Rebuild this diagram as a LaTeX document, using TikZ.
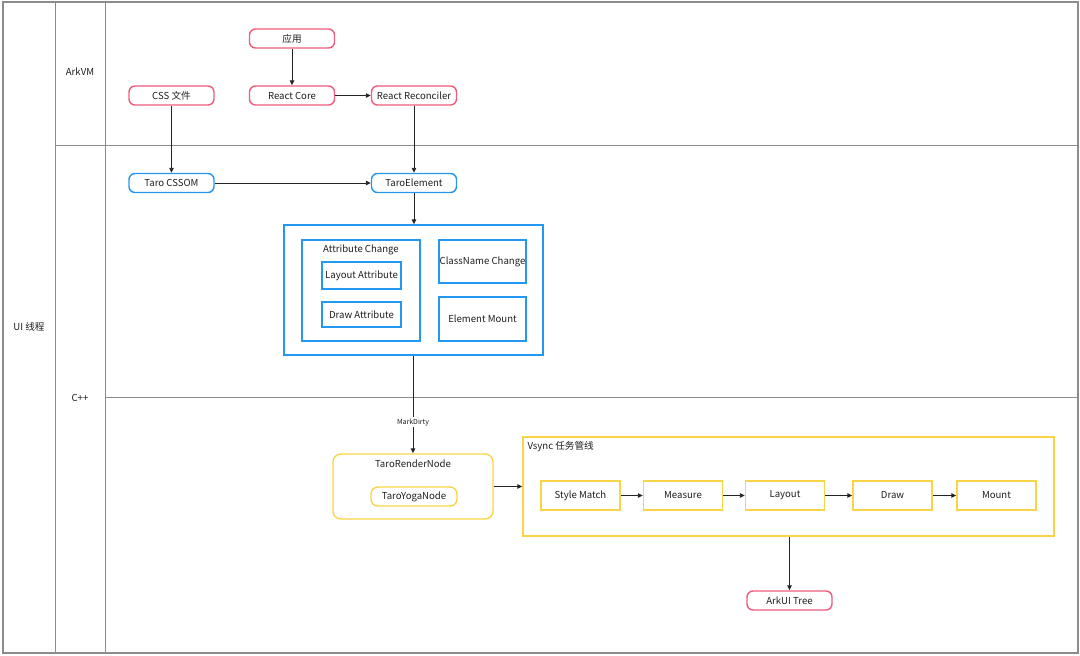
\documentclass[tikz,border=0pt]{standalone}
\usepackage{fontspec}
\setmainfont{Noto Sans CJK SC}
\usetikzlibrary{arrows.meta}
\definecolor{pinkc}{RGB}{240,92,124}
\definecolor{bluec}{RGB}{36,152,240}
\definecolor{yellowc}{RGB}{250,212,72}
\definecolor{lanec}{RGB}{140,140,140}
\definecolor{arrc}{RGB}{35,35,35}
\definecolor{txtc}{RGB}{30,30,30}
\begin{document}
\begin{tikzpicture}[x=1pt,y=-1pt,
  every node/.style={text=txtc, font=\fontsize{9.6}{10}\selectfont},
  pinknode/.style={draw=pinkc, line width=1.4pt, rounded corners=6pt, inner sep=0, minimum width=85, minimum height=19},
  bluenode/.style={draw=bluec, line width=1.4pt, rounded corners=6pt, inner sep=0, minimum width=85, minimum height=19},
  bluebox/.style={draw=bluec, line width=1.4pt, inner sep=0},
  yelbox/.style={draw=yellowc, line width=1.4pt, inner sep=0},
  lane/.style={draw=lanec, line width=1pt},
  arr/.style={draw=arrc, line width=0.9pt, -{Triangle[length=5pt,width=4.5pt]}}
]
\useasboundingbox (0,0) rectangle (1080,656);
% lanes
\draw[lane, line width=1.2pt] (3,2) rectangle (1078,653);
\draw[lane] (55,2) -- (55,653);
\draw[lane] (105,2) -- (105,653);
\draw[lane] (55,145) -- (1078,145);
\draw[lane] (105,397) -- (1078,397);
\node (lblui) at (29,327) {UI 线程};
\node (lblark) at (80,72) {ArkVM};
\node (lblcpp) at (80,398) {C++};
% ArkVM nodes
\node[pinknode] (app) at (292,38.5) {应用};
\node[pinknode] (css) at (171.5,95.5) {CSS 文件};
\node[pinknode] (core) at (292,95.5) {React Core};
\node[pinknode] (recon) at (414,95.5) {React Reconciler};
% blue
\node[bluenode] (cssom) at (171.5,183) {Taro CSSOM};
\node[bluenode] (elem) at (414,183) {TaroElement};
\node[bluebox, minimum width=259, minimum height=130] (big) at (413.5,290) {};
\node[bluebox, minimum width=118, minimum height=101] (attr) at (361,290.5) {};
\node (attrt) at (361,250) {Attribute Change};
\node[bluebox, minimum width=79, minimum height=27] (layattr) at (361.5,275.5) {Layout Attribute};
\node[bluebox, minimum width=79, minimum height=25] (drawattr) at (361.5,314.5) {Draw Attribute};
\node[bluebox, minimum width=87, minimum height=43] (cls) at (482.5,261.5) {ClassName Change};
\node[bluebox, minimum width=87, minimum height=44] (emount) at (482.5,319) {Element Mount};
% yellow
\node[yelbox, rounded corners=8pt, minimum width=160, minimum height=65] (render) at (413,486.5) {};
\node (rendert) at (413,464) {TaroRenderNode};
\node[yelbox, rounded corners=7pt, minimum width=86, minimum height=19] (yoga) at (414,496.5) {TaroYogaNode};
\node[yelbox, minimum width=531, minimum height=99] (vsync) at (788.5,486.5) {};
\node[anchor=west] (vsynct) at (524,447) {Vsync 任务管线};
\node[yelbox, minimum width=79, minimum height=29] (s1) at (580.5,495.5) {Style Match};
\node[yelbox, minimum width=79, minimum height=29] (s2) at (683,495.5) {Measure};
\node[yelbox, minimum width=79, minimum height=29] (s3) at (785,495.5) {Layout};
\node[yelbox, minimum width=79, minimum height=29] (s4) at (892.5,495.5) {Draw};
\node[yelbox, minimum width=79, minimum height=29] (s5) at (996.5,495.5) {Mount};
\node[pinknode] (ark) at (789.5,600.5) {ArkUI Tree};
% arrows
\draw[arr] (app) -- (core);
\draw[arr] (core) -- (recon);
\draw[arr] (css) -- (cssom);
\draw[arr] (recon) -- (elem);
\draw[arr] (cssom) -- (elem);
\draw[arr] (elem.south) -- (elem.south |- big.north);
\draw[arr] (big.south -| render.north) -- node[pos=0.68, fill=white, inner sep=1.5pt, font=\fontsize{7}{7}\selectfont] (mdlbl) {MarkDirty} (render.north);
\draw[arr] (render) -- (vsync);
\draw[arr] (s1) -- (s2);
\draw[arr] (s2) -- (s3);
\draw[arr] (s3) -- (s4);
\draw[arr] (s4) -- (s5);
\draw[arr] (vsync.south -| ark.north) -- (ark.north);
\end{tikzpicture}
\end{document}
